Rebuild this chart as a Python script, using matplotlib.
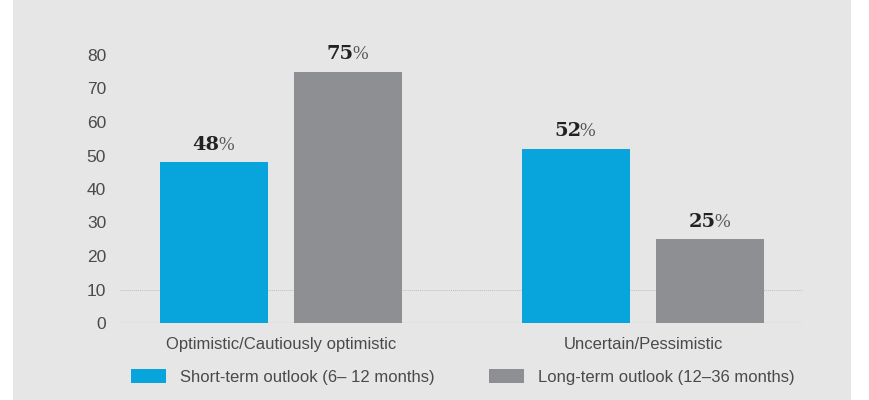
import matplotlib
matplotlib.use("Agg")
import matplotlib.pyplot as plt
from matplotlib.patches import Rectangle, Patch
import numpy as np

categories = ["Optimistic/Cautiously optimistic", "Uncertain/Pessimistic"]
short_term = [48, 52]
long_term = [75, 25]
series_names = ["Short-term outlook (6\u2013 12 months)", "Long-term outlook (12\u201336 months)"]
yticks = [0, 10, 20, 30, 40, 50, 60, 70, 80]

BLUE = "#07a5dc"
GREY = "#8e8f92"
PANEL = "#e6e6e6"
TXT = "#4a4a4a"

plt.rcParams["font.family"] = ["Liberation Sans", "DejaVu Sans"]

fig = plt.figure(figsize=(8.7, 4.0), dpi=100)
fig.patches.append(Rectangle((13 / 870, 0), (851 - 13) / 870, 1, transform=fig.transFigure,
                             facecolor=PANEL, edgecolor="none", zorder=-10))

ax = fig.add_axes([120 / 870, 77 / 400, (803 - 120) / 870, (323 - 55) / 400])
ax.set_facecolor("none")

x = np.arange(len(categories))
w, off = 0.298, 0.186
b1 = ax.bar(x - off, short_term, w, color=BLUE, zorder=3)
b2 = ax.bar(x + off, long_term, w, color=GREY, zorder=3)

ax.set_xlim(-0.445, 1.442)
ax.set_ylim(0, 80)
ax.set_yticks(yticks)
ax.set_xticks(x, categories)
ax.tick_params(axis="both", length=0, labelcolor=TXT)
ax.tick_params(axis="y", pad=10, labelsize=12.5)
ax.tick_params(axis="x", pad=10, labelsize=12)
for s in ax.spines.values():
    s.set_visible(False)
ax.axhline(0, color="#c4c4c4", lw=0.9, zorder=2)
ax.axhline(10, color="#bdbdbd", lw=0.7, ls=(0, (1, 1)), zorder=1)

# value labels: bold serif digits + light percent sign
for bars, vals in ((b1, short_term), (b2, long_term)):
    for r, v in zip(bars, vals):
        cx = r.get_x() + r.get_width() / 2
        ax.annotate(f"{v}", (cx, v), xytext=(4, 6), textcoords="offset points",
                    ha="right", va="bottom", fontsize=14, fontweight="bold",
                    family="DejaVu Serif", color="#222222", annotation_clip=False)
        ax.annotate("%", (cx, v), xytext=(3, 6), textcoords="offset points",
                    ha="left", va="bottom", fontsize=13.5, fontweight="light",
                    family="Liberation Serif", color="#555555", annotation_clip=False)

handles = [Patch(facecolor=BLUE), Patch(facecolor=GREY)]
fig.legend(handles, series_names, loc="center", bbox_to_anchor=(0.532, 0.057), ncol=2,
           frameon=False, fontsize=12, labelcolor=TXT, handlelength=2.1, handleheight=0.9,
           handletextpad=0.8, columnspacing=3.3)

fig.savefig("out.png", dpi=100)
